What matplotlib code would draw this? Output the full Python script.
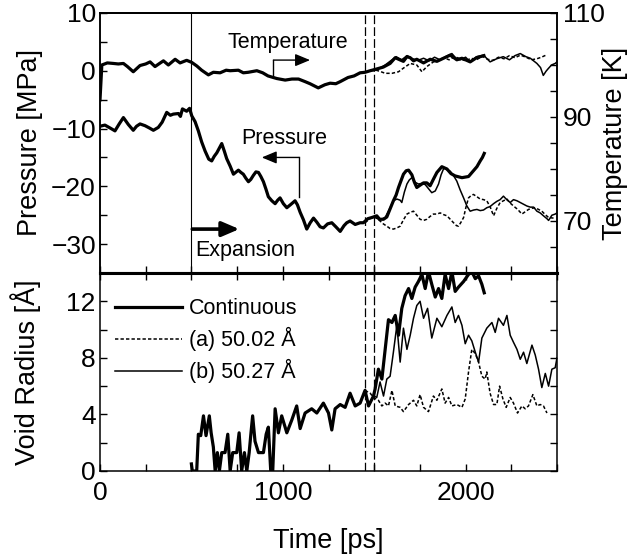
import matplotlib
matplotlib.use('Agg')
import matplotlib.pyplot as plt
from matplotlib.ticker import MultipleLocator, FixedLocator

plt.rcParams['font.family'] = ['Liberation Sans', 'DejaVu Sans']
plt.rcParams['axes.unicode_minus'] = True

# ---------------- data (time [ps], value) ----------------
temp_cont = [(0, 93.3), (10, 100.0), (40, 100.4), (73, 100.3), (100, 100.2), (128, 100.3), (150, 99.7),
             (182, 98.7), (219, 99.9), (250, 100.2), (274, 100.6), (301, 99.7), (330, 100.4), (347, 100.8),
             (374, 100.0), (411, 101.1), (438, 100.4), (474, 100.9), (502, 100.5), (530, 99.8), (556, 99.0),
             (593, 98.1), (620, 98.6), (657, 98.5), (690, 99.0), (712, 98.9), (757, 99.0), (784, 98.5),
             (811, 98.6), (858, 98.9), (890, 98.5), (919, 97.9), (967, 97.4), (1013, 97.1), (1050, 97.3),
             (1086, 97.3), (1122, 96.8), (1149, 96.4), (1194, 95.6), (1230, 96.2), (1259, 96.5), (1290, 96.4),
             (1314, 96.8), (1357, 97.6), (1390, 97.9), (1423, 98.5), (1450, 98.6), (1478, 98.9), (1510, 99.2),
             (1550, 99.6), (1587, 100.3), (1615, 101.4), (1640, 101.0), (1660, 100.7), (1679, 101.6),
             (1697, 101.4), (1715, 100.8), (1733, 101.1), (1770, 100.4), (1806, 101.1), (1843, 100.7),
             (1879, 101.3), (1916, 101.9), (1952, 101.0), (1980, 101.3), (2025, 100.6), (2060, 101.4),
             (2100, 101.8)]
temp_b = [(1500, 98.9), (1530, 99.4), (1560, 100.0), (1590, 100.8), (1620, 101.6), (1650, 101.0), (1680, 101.8),
          (1710, 101.2), (1740, 100.9), (1770, 101.3), (1800, 100.8), (1830, 101.5), (1860, 101.0), (1890, 101.6),
          (1925, 102.2), (1950, 101.2), (1970, 101.0), (2000, 101.5), (2025, 100.6), (2060, 101.6), (2098, 101.9),
          (2134, 100.6), (2170, 101.2), (2206, 101.6), (2240, 101.0), (2270, 101.8), (2299, 102.2), (2330, 101.6),
          (2354, 101.3), (2390, 100.3), (2410, 99.5), (2425, 98.0), (2440, 98.8), (2452, 99.3), (2470, 100.0),
          (2490, 100.3), (2500, 100.6)]
temp_a = [(1450, 98.6), (1480, 98.9), (1510, 99.0), (1530, 98.8), (1560, 98.4), (1597, 98.4), (1633, 98.7),
          (1660, 99.4), (1697, 100.3), (1733, 100.0), (1761, 98.7), (1788, 99.7), (1824, 100.6), (1850, 100.9),
          (1880, 101.4), (1910, 101.0), (1940, 101.6), (1970, 101.2), (2000, 100.8), (2030, 101.3), (2060, 101.0),
          (2090, 101.7), (2120, 101.1), (2150, 100.9), (2180, 101.5), (2210, 101.2), (2240, 101.8), (2270, 101.4),
          (2300, 101.9), (2330, 101.5), (2360, 101.0), (2390, 101.2), (2415, 101.5), (2440, 101.9)]

pres_cont = [(0, -9.6), (27, -9.4), (55, -9.9), (82, -10.4), (105, -9.2), (128, -8.1), (155, -9.3), (182, -10.3),
             (200, -9.6), (219, -9.2), (246, -9.5), (270, -9.9), (292, -10.3), (319, -9.8), (340, -8.9), (365, -7.2),
             (385, -7.7), (401, -7.5), (429, -7.4), (440, -7.9), (451, -6.6), (474, -7.0), (490, -6.5), (502, -7.8),
             (520, -8.8), (538, -10.4), (556, -12.3), (575, -13.9), (595, -15.3), (611, -15.6), (625, -14.8),
             (639, -14.2), (666, -12.6), (680, -13.9), (693, -15.2), (712, -16.5), (730, -17.9), (757, -17.2),
             (771, -17.6), (784, -17.9), (798, -18.6), (812, -19.2), (825, -18.8), (839, -18.1), (853, -17.5),
             (867, -17.6), (880, -18.3), (894, -19.2), (908, -20.5), (921, -21.8), (940, -22.5), (958, -23.0),
             (972, -22.4), (985, -22.0), (1003, -23.0), (1022, -23.7), (1045, -23.1), (1067, -22.5), (1080, -23.2),
             (1095, -24.5), (1113, -25.8), (1131, -27.4), (1150, -26.3), (1168, -25.5), (1186, -26.2),
             (1204, -27.0), (1222, -27.2), (1245, -26.5), (1268, -26.3), (1290, -27.0), (1314, -27.8),
             (1335, -26.8), (1350, -26.3), (1368, -26.0), (1396, -26.6), (1423, -26.3), (1441, -26.3),
             (1465, -25.6), (1487, -25.4), (1514, -25.1), (1530, -25.7), (1551, -25.7), (1569, -25.3),
             (1587, -23.9), (1605, -22.5), (1620, -21.5), (1633, -20.2), (1647, -19.0), (1660, -17.9),
             (1675, -17.3), (1688, -17.2), (1706, -18.0), (1720, -19.3), (1733, -20.2), (1751, -19.8),
             (1770, -19.4), (1788, -19.4), (1806, -19.9), (1825, -18.7), (1843, -17.6), (1870, -16.6),
             (1898, -17.0), (1920, -17.8), (1943, -18.2), (1980, -18.5), (2016, -18.3), (2043, -17.3),
             (2062, -16.6), (2080, -15.6), (2092, -15.0), (2102, -14.3)]
pres_b = [(1500, -25.3), (1530, -25.8), (1560, -25.4), (1587, -23.7), (1605, -22.5), (1624, -22.2), (1642, -22.4),
          (1651, -22.8), (1665, -21.0), (1679, -19.6), (1692, -18.9), (1706, -18.5), (1724, -19.3), (1742, -19.6),
          (1760, -19.5), (1779, -19.7), (1797, -20.4), (1815, -21.1), (1834, -20.8), (1852, -19.6), (1866, -18.0),
          (1879, -17.0), (1888, -16.8), (1900, -17.2), (1916, -17.4), (1935, -18.2), (1952, -19.1), (1970, -20.6),
          (1989, -22.0), (2007, -23.4), (2025, -24.3), (2044, -24.1), (2062, -24.0), (2080, -24.2), (2098, -24.1),
          (2116, -23.7), (2134, -23.5), (2153, -23.0), (2171, -22.6), (2189, -22.3), (2207, -21.7), (2225, -22.3),
          (2244, -22.8), (2262, -22.3), (2281, -22.5), (2299, -22.8), (2317, -23.1), (2335, -23.4), (2354, -23.6),
          (2372, -23.6), (2390, -24.3), (2408, -24.6), (2426, -25.1), (2445, -25.6), (2454, -25.9), (2472, -25.0),
          (2490, -24.8), (2500, -24.6)]
pres_a = [(1450, -26.3), (1480, -25.5), (1505, -25.3), (1532, -26.0), (1550, -26.5), (1569, -26.9), (1587, -27.3),
          (1605, -27.4), (1624, -27.2), (1642, -26.9), (1660, -25.8), (1679, -24.8), (1697, -24.5), (1715, -24.3),
          (1733, -25.0), (1751, -25.7), (1770, -25.9), (1788, -25.7), (1806, -25.2), (1824, -24.8), (1843, -24.8),
          (1861, -24.6), (1880, -24.9), (1898, -25.1), (1916, -25.7), (1934, -26.3), (1950, -26.8), (1961, -26.9),
          (1975, -26.2), (1989, -25.4), (2002, -23.6), (2016, -22.0), (2030, -21.6), (2043, -21.4), (2062, -21.8),
          (2080, -22.2), (2098, -22.3), (2116, -22.5), (2135, -23.6), (2153, -25.1), (2171, -23.8), (2189, -22.8),
          (2207, -22.5), (2226, -22.2), (2244, -22.9), (2262, -23.4), (2285, -24.0), (2308, -24.8), (2326, -24.4),
          (2344, -24.0), (2362, -23.8), (2381, -23.7), (2399, -24.0), (2417, -24.3), (2436, -24.9), (2454, -25.4),
          (2481, -25.5)]

void_cont = [(500, 0.5), (505, 0), (529, 0), (538, 2.6), (551, 2.5), (566, 3.9), (580, 2.5), (598, 3.9), (608, 2.7),
             (620, 1.7), (630, 0), (642, 1.3), (653, 0), (666, 1.3), (684, 1.3), (699, 2.6), (712, 0), (726, 1.3),
             (748, 1.3), (761, 2.7), (775, 0), (790, 1.3), (803, 0), (816, 1.3), (826, 2.7), (835, 3.9), (848, 2.1),
             (867, 1.3), (894, 1.3), (909, 2.6), (921, 3.1), (934, 0), (945, 0), (958, 4.4), (976, 2.7), (994, 3.9),
             (1022, 2.7), (1049, 3.6), (1076, 4.6), (1095, 3.0), (1122, 4.1), (1158, 4.4), (1186, 4.1), (1222, 4.8),
             (1250, 4.1), (1268, 2.9), (1286, 4.4), (1314, 4.7), (1341, 4.5), (1368, 5.5), (1396, 4.6), (1423, 4.8),
             (1450, 5.7), (1469, 4.6), (1496, 5.3), (1505, 5.8), (1523, 7.2), (1542, 6.5), (1560, 8.6), (1578, 10.7),
             (1597, 10.5), (1615, 11.0), (1633, 9.6), (1651, 11.5), (1669, 12.4), (1688, 12.9), (1706, 12.2),
             (1724, 13.0), (1742, 13.4), (1761, 13.9), (1779, 12.9), (1797, 14.1), (1815, 13.2), (1834, 12.3),
             (1852, 12.9), (1870, 12.2), (1888, 13.9), (1907, 12.9), (1925, 14.1), (1943, 12.7), (1961, 13.0),
             (1989, 13.4), (2016, 13.9), (2034, 14.1), (2053, 13.6), (2071, 13.8), (2089, 13.2), (2102, 12.6)]
void_b = [(1500, 5.3), (1514, 5.2), (1532, 6.3), (1551, 5.3), (1569, 6.5), (1587, 6.7), (1605, 8.4), (1624, 10.3),
          (1642, 7.7), (1660, 10.1), (1679, 8.6), (1697, 9.6), (1715, 10.8), (1733, 11.7), (1751, 12.0), (1770, 10.8),
          (1792, 11.5), (1815, 9.4), (1843, 10.8), (1870, 10.2), (1898, 11.0), (1925, 11.6), (1943, 10.5),
          (1961, 11.0), (1980, 10.3), (1998, 9.0), (2016, 9.6), (2034, 9.2), (2053, 8.4), (2071, 7.7), (2089, 9.4),
          (2116, 10.1), (2144, 10.5), (2162, 9.8), (2180, 10.8), (2207, 10.3), (2226, 11.0), (2244, 9.6),
          (2262, 9.1), (2281, 8.6), (2299, 7.9), (2317, 8.4), (2335, 7.6), (2363, 8.9), (2381, 8.2), (2399, 7.2),
          (2417, 5.9), (2436, 6.9), (2454, 6.0), (2472, 7.2), (2490, 7.3), (2500, 8.0)]
void_a = [(1450, 5.7), (1478, 5.5), (1496, 5.2), (1523, 5.0), (1542, 4.6), (1560, 4.8), (1578, 4.6), (1597, 5.7),
          (1615, 4.6), (1642, 4.5), (1660, 4.2), (1688, 4.7), (1715, 5.0), (1733, 4.6), (1751, 5.4), (1770, 4.5),
          (1797, 4.2), (1824, 5.3), (1843, 5.0), (1870, 5.8), (1888, 4.8), (1907, 5.2), (1925, 4.6), (1952, 4.7),
          (1980, 4.5), (1998, 5.1), (2016, 7.0), (2034, 8.6), (2053, 8.3), (2071, 7.7), (2089, 6.7), (2107, 6.5),
          (2116, 7.0), (2134, 5.5), (2153, 4.7), (2171, 4.7), (2186, 6.0), (2204, 5.1), (2222, 4.5), (2244, 5.2),
          (2262, 4.8), (2284, 4.1), (2308, 4.6), (2326, 4.4), (2344, 4.6), (2368, 5.4), (2390, 4.6), (2408, 4.7),
          (2426, 4.6), (2445, 4.1)]

legend_labels = ['Continuous', '(a) 50.02 Å', '(b) 50.27 Å']
expansion_time = 500
restart_times = [1450, 1500]


def xy(series):
    return [p[0] for p in series], [p[1] for p in series]


LW_THICK = 2.3
LW_THIN = 1.1
DASH = (2.2, 1.4)

fig = plt.figure(figsize=(6.29, 5.59), dpi=100)
ax1 = fig.add_axes([100 / 629, 1 - 273 / 559, 457 / 629, 260 / 559])
ax2 = fig.add_axes([100 / 629, 1 - 471 / 559, 457 / 629, 198 / 559])
axT = ax1.twinx()

# ---- top panel ----
ax1.plot(*xy(pres_cont), color='black', lw=LW_THICK, solid_joinstyle='round')
ax1.plot(*xy(pres_a), color='black', lw=LW_THIN, linestyle=(0, DASH))
ax1.plot(*xy(pres_b), color='black', lw=LW_THIN)
axT.plot(*xy(temp_cont), color='black', lw=LW_THICK, solid_joinstyle='round')
axT.plot(*xy(temp_a), color='black', lw=LW_THIN, linestyle=(0, DASH))
axT.plot(*xy(temp_b), color='black', lw=LW_THIN)

ax1.axvline(expansion_time, color='black', lw=0.8)
for t in restart_times:
    ax1.axvline(t, color='black', lw=0.9, linestyle=(0, (7, 2.5)))
    ax2.axvline(t, color='black', lw=0.9, linestyle=(0, (7, 2.5)))

ax1.set_xlim(0, 2500)
ax1.set_ylim(-35, 10)
axT.set_ylim(60, 110)
ax1.yaxis.set_major_locator(MultipleLocator(10))
ax1.yaxis.set_minor_locator(MultipleLocator(5))
ax1.xaxis.set_major_locator(MultipleLocator(1000))
ax1.xaxis.set_minor_locator(MultipleLocator(250))
axT.yaxis.set_major_locator(FixedLocator([70, 90, 110]))
axT.yaxis.set_minor_locator(MultipleLocator(5))

ax1.tick_params(which='both', direction='in', length=5, width=1, labelsize=19,
                top=False, bottom=True, labelbottom=False, left=True, right=False, pad=3)
axT.tick_params(which='both', direction='in', length=5, width=1, labelsize=19, pad=4)

ax1.set_ylabel('Pressure [MPa]', fontsize=19.5)
ax1.yaxis.set_label_coords(-0.125, 0.5)
axT.set_ylabel('Temperature [K]', fontsize=19.5)
axT.yaxis.set_label_coords(1.098, 0.5)

# annotations
ann = 15.5
ax1.text(700, 4.0, 'Temperature', fontsize=ann, va='baseline', ha='left')
ax1.plot([949, 949], [-0.9, 1.85], color='black', lw=1.0)
ax1.annotate('', xy=(1149, 1.85), xytext=(949, 1.85),
             arrowprops=dict(arrowstyle='-|>,head_length=0.6,head_width=0.25', color='black', lw=1.0,
                             shrinkA=0, shrinkB=0, mutation_scale=15))
ax1.text(775, -12.7, 'Pressure', fontsize=ann, va='baseline', ha='left')
ax1.plot([1089, 1089], [-21.9, -15.0], color='black', lw=1.0)
ax1.annotate('', xy=(885, -15.0), xytext=(1089, -15.0),
             arrowprops=dict(arrowstyle='-|>,head_length=0.6,head_width=0.25', color='black', lw=1.0,
                             shrinkA=0, shrinkB=0, mutation_scale=15))
ax1.annotate('', xy=(762, -27.4), xytext=(505, -27.4),
             arrowprops=dict(arrowstyle='-|>,head_length=0.7,head_width=0.3', color='black', lw=2.6,
                             shrinkA=0, shrinkB=0, mutation_scale=15))
ax1.text(520, -32.06, 'Expansion', fontsize=ann, va='baseline', ha='left')

# ---- bottom panel ----
ax2.plot(*xy(void_cont), color='black', lw=LW_THICK, label=legend_labels[0], solid_joinstyle='round')
ax2.plot(*xy(void_a), color='black', lw=LW_THIN, linestyle=(0, DASH), label=legend_labels[1])
ax2.plot(*xy(void_b), color='black', lw=LW_THIN, label=legend_labels[2])
ax2.set_xlim(0, 2500)
ax2.set_ylim(0, 14)
ax2.yaxis.set_major_locator(MultipleLocator(4))
ax2.yaxis.set_minor_locator(MultipleLocator(2))
ax2.xaxis.set_major_locator(MultipleLocator(1000))
ax2.xaxis.set_minor_locator(MultipleLocator(250))
ax2.tick_params(which='both', direction='in', length=5, width=1, labelsize=19,
                top=True, bottom=True, left=True, right=True, pad=3)
ax2.tick_params(axis='x', which='both', pad=7)
ax2.set_ylabel('Void Radius [Å]', fontsize=19.5)
ax2.yaxis.set_label_coords(-0.13, 0.5)
ax2.set_xlabel('Time [ps]', fontsize=19.5)
ax2.xaxis.set_label_coords(0.5, -0.29)

leg = ax2.legend(loc='upper left', bbox_to_anchor=(0.033, 0.872), frameon=False, fontsize=ann,
                 handlelength=3.1, handletextpad=0.33, labelspacing=0.36, borderpad=0, borderaxespad=0)

# spines
for ax in (ax1, axT, ax2):
    for s in ax.spines.values():
        s.set_linewidth(1.1)
ax1.spines['bottom'].set_linewidth(2.2)
ax2.spines['top'].set_linewidth(2.2)
ax1.spines['top'].set_linewidth(1.4)

fig.savefig('out.png', dpi=100)
